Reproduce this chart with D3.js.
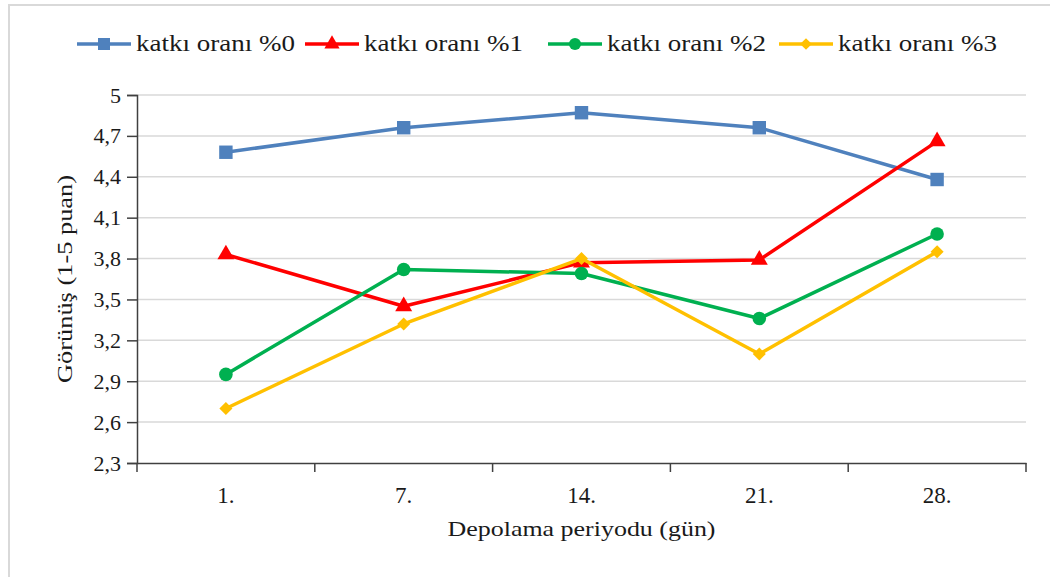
<!DOCTYPE html>
<html>
<head>
<meta charset="utf-8">
<script src="https://cdn.jsdelivr.net/npm/d3@7"></script>
<style>
  html, body { margin: 0; padding: 0; background: #fff; }
  svg { display: block; }
  text { font-family: "Liberation Serif", "Times New Roman", serif; fill: #1a1a1a; }
</style>
</head>
<body>
<svg id="chart" width="1050" height="577"></svg>
<script>
// Storage period (days) and appearance scores (1-5 points) per additive ratio
const categories = ["1.", "7.", "14.", "21.", "28."];
const seriesNames = ["katkı oranı %0", "katkı oranı %1", "katkı oranı %2", "katkı oranı %3"];
const ratio0 = [4.58, 4.76, 4.87, 4.76, 4.38];
const ratio1 = [3.83, 3.45, 3.77, 3.79, 4.66];
const ratio2 = [2.95, 3.72, 3.69, 3.36, 3.98];
const ratio3 = [2.70, 3.32, 3.80, 3.10, 3.85];
const yTickValues = [2.3, 2.6, 2.9, 3.2, 3.5, 3.8, 4.1, 4.4, 4.7, 5];
const xTitle = "Depolama periyodu (gün)";
const yTitle = "Görünüş (1-5 puan)";

const seriesValues = [ratio0, ratio1, ratio2, ratio3];
const colors = ["#4f81bd", "#ff0000", "#00b050", "#ffc000"];
const symbols = [d3.symbolSquare, d3.symbolTriangle, d3.symbolCircle, d3.symbolSquare];
const symbolSizes = [180, 125, 145, 85];
const symbolRotate = [0, 0, 0, 45];

const svg = d3.select("#chart");

// outer frame
svg.append("path")
  .attr("d", "M9,577 V5 H1050")
  .attr("fill", "none")
  .attr("stroke", "#d9d9d9")
  .attr("stroke-width", 2);

const plotLeft = 137, plotRight = 1026, plotTop = 95, plotBottom = 463;

const x = d3.scaleBand().domain(categories).range([plotLeft, plotRight]).padding(0);
const y = d3.scaleLinear().domain([2.3, 5]).range([plotBottom, plotTop]);
const fmt = v => String(v).replace(".", ",");

// horizontal gridlines
svg.append("g")
  .selectAll("line")
  .data(yTickValues.slice(1))
  .join("line")
  .attr("x1", plotLeft).attr("x2", plotRight)
  .attr("y1", d => y(d)).attr("y2", d => y(d))
  .attr("stroke", "#d9d9d9")
  .attr("stroke-width", 1.5);

// y axis
const yAxis = svg.append("g")
  .attr("transform", `translate(${plotLeft},0)`)
  .call(d3.axisLeft(y).tickValues(yTickValues).tickFormat(fmt).tickSize(10).tickPadding(6));
yAxis.select(".domain").attr("stroke", "#404040").attr("stroke-width", 1.5);
yAxis.selectAll(".tick line").attr("stroke", "#404040").attr("stroke-width", 1.5);
yAxis.selectAll(".tick text")
  .style("font-family", "Liberation Serif")
  .attr("font-size", 22)
  .attr("fill", "#1a1a1a");

// x axis: labels centred in each band, ticks at band boundaries
const xAxis = svg.append("g")
  .attr("transform", `translate(0,${plotBottom})`)
  .call(d3.axisBottom(x).tickSize(0).tickPadding(24));
xAxis.select(".domain").attr("stroke", "#404040").attr("stroke-width", 1.5);
xAxis.selectAll(".tick text")
  .style("font-family", "Liberation Serif")
  .attr("font-size", 23)
  .attr("fill", "#1a1a1a");
const boundaries = categories.map(c => x(c)).concat([x.range()[1]]);
xAxis.selectAll("line.bound")
  .data(boundaries)
  .join("line")
  .attr("class", "bound")
  .attr("x1", d => d).attr("x2", d => d)
  .attr("y1", 0).attr("y2", 9)
  .attr("stroke", "#404040")
  .attr("stroke-width", 1.5);

// axis titles
svg.append("text")
  .attr("transform", `translate(${(plotLeft + plotRight) / 2},536) scale(1.18,1)`)
  .attr("text-anchor", "middle")
  .attr("font-size", 22)
  .text(xTitle);

svg.append("text")
  .attr("transform", `translate(72,${(plotTop + plotBottom) / 2}) rotate(-90) scale(1.2,1)`)
  .attr("text-anchor", "middle")
  .attr("font-size", 22)
  .text(yTitle);

// series lines and markers
const line = d3.line()
  .x((d, i) => x(categories[i]) + x.bandwidth() / 2)
  .y(d => y(d));

seriesValues.forEach((vals, s) => {
  const g = svg.append("g");
  g.append("path")
    .datum(vals)
    .attr("d", line)
    .attr("fill", "none")
    .attr("stroke", colors[s])
    .attr("stroke-width", 3.5)
    .attr("stroke-linejoin", "round");
  g.selectAll("path.marker")
    .data(vals)
    .join("path")
    .attr("class", "marker")
    .attr("d", d3.symbol(symbols[s], symbolSizes[s]))
    .attr("transform", (d, i) =>
      `translate(${x(categories[i]) + x.bandwidth() / 2},${y(d)}) rotate(${symbolRotate[s]})`)
    .attr("fill", colors[s]);
});

// legend
const legendX = [77, 305, 548, 779];
const legendY = 44;
seriesNames.forEach((name, s) => {
  const g = svg.append("g").attr("transform", `translate(${legendX[s]},${legendY})`);
  g.append("line")
    .attr("x1", 0).attr("x2", 54)
    .attr("y1", 0).attr("y2", 0)
    .attr("stroke", colors[s])
    .attr("stroke-width", 3.5);
  g.append("path")
    .attr("d", d3.symbol(symbols[s], symbolSizes[s] * 0.8))
    .attr("transform", `translate(27,0) rotate(${symbolRotate[s]})`)
    .attr("fill", colors[s]);
  g.append("text")
    .attr("transform", "translate(59,7) scale(1.2,1)")
    .attr("font-size", 22.5)
    .text(name);
});
</script>
</body>
</html>
